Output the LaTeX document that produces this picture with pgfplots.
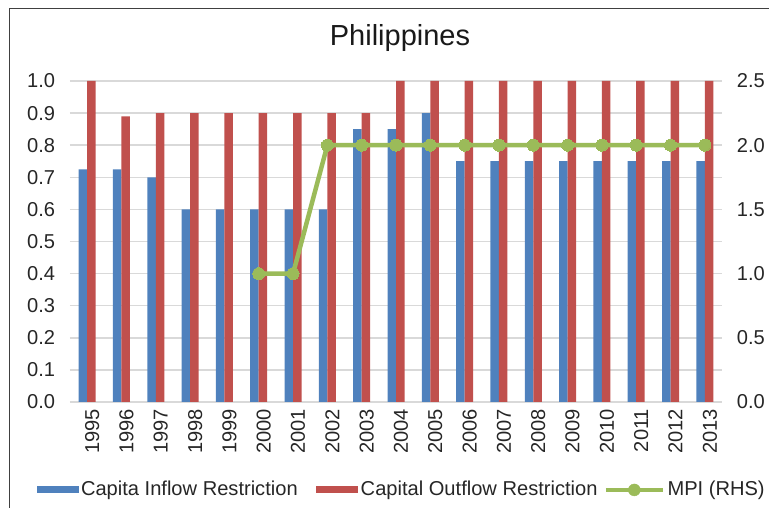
\documentclass[border=0pt]{standalone}
\usepackage{fontspec}
\setmainfont{Liberation Sans}
\usepackage{pgfplots}
\pgfplotsset{compat=1.18}
\definecolor{cblue}{RGB}{79,129,189}
\definecolor{cred}{RGB}{192,80,77}
\definecolor{cgreen}{RGB}{155,187,89}
\definecolor{cgrid}{RGB}{217,217,217}
\newcommand{\chf}{\fontsize{20.1}{24}\selectfont}
\begin{document}
\chf
\begin{tikzpicture}[x=1pt,y=1pt]
\useasboundingbox (-70,-106) rectangle (699,402);
\draw[line width=1pt, black!75] (-60,-130) rectangle (730,393);
\begin{axis}[
  at={(0,0)}, anchor=south west,
  scale only axis, width=652pt, height=321pt,
  xmin=-0.5, xmax=18.5, ymin=0, ymax=1,
  axis line style={draw=none},
  major tick length=0pt,
  ybar=0pt, bar width=8.5pt,
  ymajorgrids, grid style={cgrid, line width=1.5pt},
  ytick={0,0.1,0.2,0.3,0.4,0.5,0.6,0.7,0.8,0.9,1},
  yticklabel style={/pgf/number format/.cd, fixed, fixed zerofill, precision=1, /tikz/.cd, xshift=-8pt},
  xtick={0,...,18},
  xticklabels={1995,1996,1997,1998,1999,2000,2001,2002,2003,2004,2005,2006,2007,2008,2009,2010,2011,2012,2013},
  xticklabel style={rotate=90, anchor=east, yshift=-5pt},
  /pgf/number format/assume math mode=true,
  every tick label/.append style={font=\chf, text=black!85},
  legend style={at={(0.509,-0.274)}, anchor=center, draw=none, fill=none, font=\chf, text=black!85,
    legend columns=3,
    /tikz/column 2/.style={column sep=16pt},
    /tikz/column 4/.style={column sep=3.5pt},
    nodes={inner xsep=2.5pt}},
]
\addplot[fill=cblue, draw=none, legend image code/.code={\fill[cblue] (0pt,-3.5pt) rectangle (42pt,3.5pt);}] coordinates {
(0,0.725)(1,0.725)(2,0.70)(3,0.60)(4,0.60)(5,0.60)(6,0.60)(7,0.60)(8,0.85)(9,0.85)
(10,0.90)(11,0.75)(12,0.75)(13,0.75)(14,0.75)(15,0.75)(16,0.75)(17,0.75)(18,0.75)};
\addlegendentry{Capita Inflow Restriction}
\addplot[fill=cred, draw=none, legend image code/.code={\fill[cred] (0pt,-3.5pt) rectangle (42pt,3.5pt);}] coordinates {
(0,1.0)(1,0.89)(2,0.90)(3,0.90)(4,0.90)(5,0.90)(6,0.90)(7,0.90)(8,0.90)(9,1.0)
(10,1.0)(11,1.0)(12,1.0)(13,1.0)(14,1.0)(15,1.0)(16,1.0)(17,1.0)(18,1.0)};
\addlegendentry{Capital Outflow Restriction}
\addlegendimage{legend image code/.code={\draw[cgreen, line width=4.5pt] (0pt,0pt) -- (57pt,0pt); \fill[cgreen] (28.5pt,0pt) circle (6pt);}}
\addlegendentry{MPI (RHS)}
\end{axis}
\begin{axis}[
  at={(0,0)}, anchor=south west,
  scale only axis, width=652pt, height=321pt,
  xmin=-0.5, xmax=18.5, ymin=0, ymax=2.5,
  axis line style={draw=none},
  axis y line*=right, axis x line=none,
  major tick length=0pt,
  ytick={0,0.5,1,1.5,2,2.5},
  yticklabel style={/pgf/number format/.cd, fixed, fixed zerofill, precision=1, /tikz/.cd, xshift=8pt},
  /pgf/number format/assume math mode=true,
  every tick label/.append style={font=\chf, text=black!85},
]
\addplot[cgreen, line width=4.5pt, mark=*, mark size=6pt, mark options={fill=cgreen, draw=cgreen, line width=0pt}] coordinates {
(5,1)(6,1)(7,2)(8,2)(9,2)(10,2)(11,2)(12,2)(13,2)(14,2)(15,2)(16,2)(17,2)(18,2)};
\end{axis}
\node[font=\fontsize{29}{34}\selectfont, text=black!90] at (330,364) {Philippines};
\end{tikzpicture}
\end{document}
